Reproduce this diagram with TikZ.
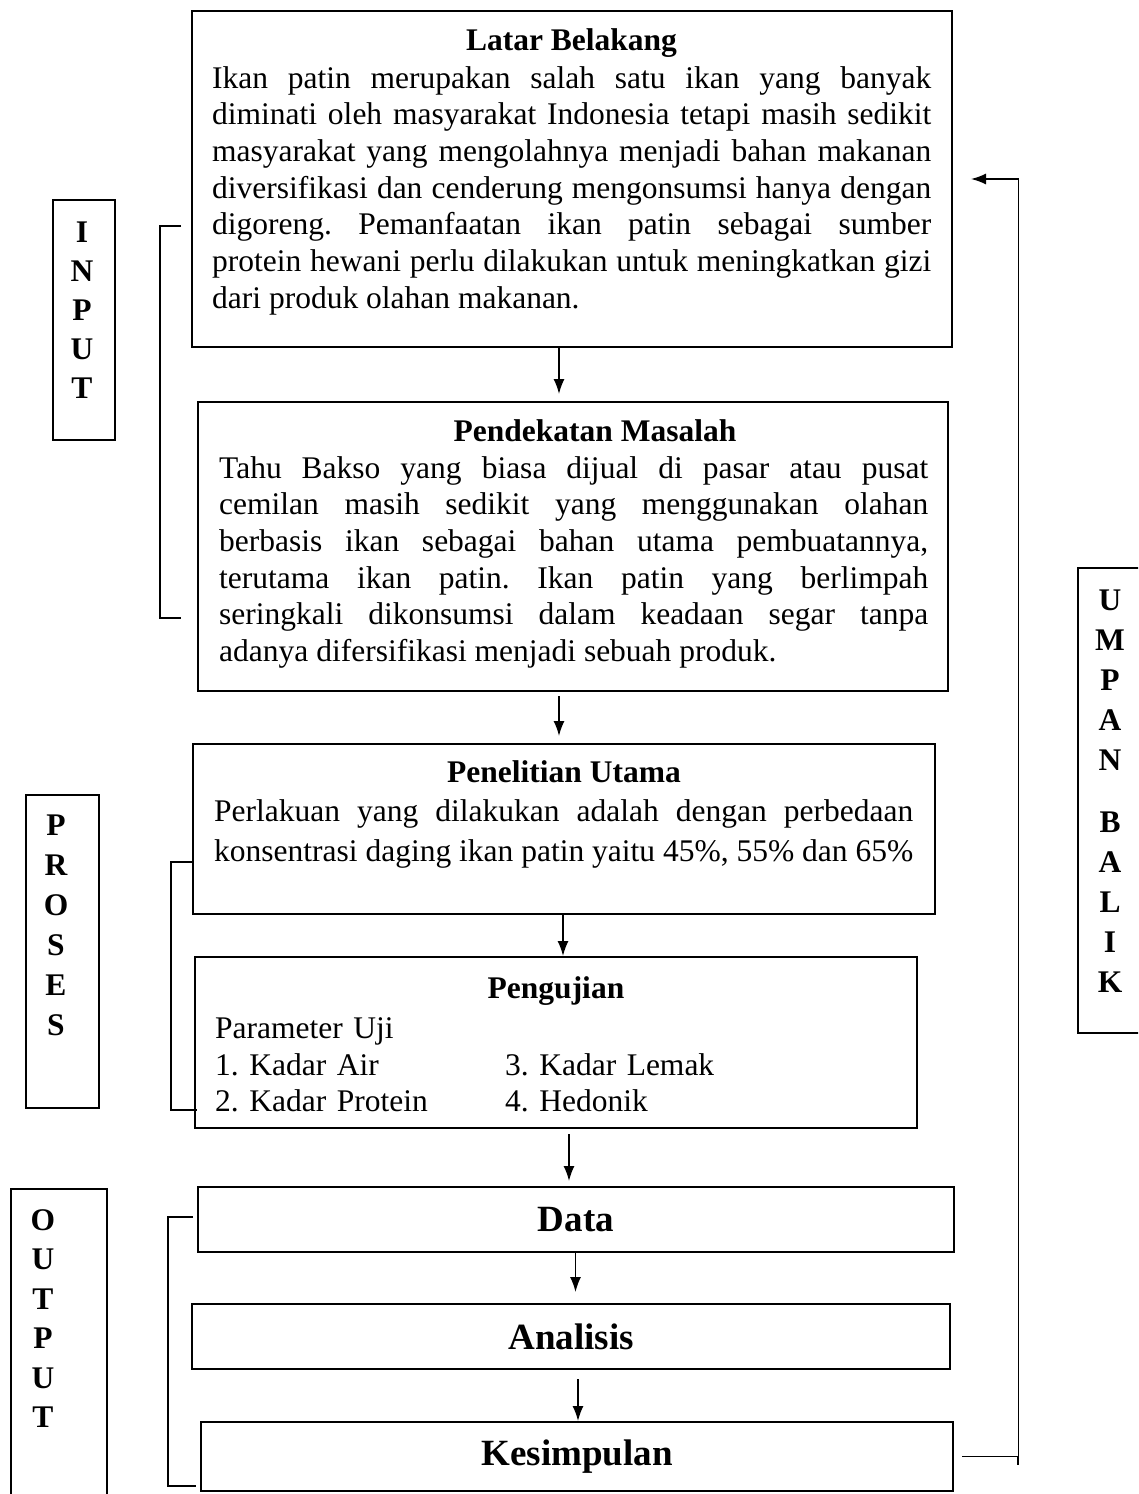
\documentclass[tikz,border=0pt]{standalone}
\usepackage{fontspec}
\setmainfont{Liberation Serif}
\usetikzlibrary{arrows.meta}

\frenchspacing
\hyphenpenalty=10000
\exhyphenpenalty=10000
\tolerance=9999
\newcommand{\bodysize}{\fontsize{31.5}{36.7}\selectfont}

\begin{document}
\begin{tikzpicture}[x=1pt,y=-1pt,
  box/.style={draw,line width=2pt,inner sep=0pt},
  boxtitle/.style={font=\bodysize\bfseries,anchor=base,inner sep=0pt},
  bigtitle/.style={font=\fontsize{37}{40}\selectfont\bfseries},
  para/.style={font=\bodysize,anchor=base west,align=justify,inner sep=0pt},
  vletters/.style={font=\fontsize{31.5}{#1}\selectfont\bfseries,anchor=base,align=center,text width=50,inner sep=0pt},
  vletters/.default=40,
  arr/.style={line width=1.5pt,-{Latex[length=15pt,width=11pt]}},
  bracket/.style={line width=2pt}
]
\useasboundingbox (0,0) rectangle (1138,1494);
\clip (0,0) rectangle (1138,1494);

% boxes
\node[box,minimum width=760,minimum height=336] (lb) at (572,179) {};
\node[box,minimum width=750,minimum height=289] (pm) at (573,546.5) {};
\node[box,minimum width=742,minimum height=170] (pu) at (564,829) {};
\node[box,minimum width=721.5,minimum height=171] (pg) at (556,1042.5) {};
\node[box,bigtitle,minimum width=756,minimum height=65] (dt) at (576,1219.5) {Data};
\node[box,bigtitle,minimum width=757.5,minimum height=65] (an) at (571,1336.5) {Analisis};
\node[box,bigtitle,minimum width=752.5,minimum height=69] (ks) at (577,1456.5) {Kesimpulan};

% side labels
\node[box,minimum width=62.5,minimum height=240] (inp) at (84,320) {};
\node[box,minimum width=73,minimum height=313] (prs) at (62,951.5) {};
\node[box,minimum width=96,minimum height=340] (outp) at (59,1359) {};
\node[box,minimum width=72,minimum height=465] (umpan) at (1114,800.5) {};
\node[vletters=39] (inptext) at (82,242) {I\\N\\P\\U\\T};
\node[vletters=40] (prstext) at (56,835) {P\\R\\O\\S\\E\\S};
\node[vletters=39.5] (outptext) at (43,1230) {O\\U\\T\\P\\U\\T};
\node[vletters=40] (umpantext) at (1110,610) {U\\M\\P\\A\\N\\[22pt]B\\A\\L\\I\\K};

% texts
\node[boxtitle] (lbtitle) at (571.5,50) {Latar Belakang};
\node[para,text width=719] (lbtext) at (212,88) {Ikan patin merupakan salah satu ikan yang banyak\linebreak
diminati oleh masyarakat Indonesia tetapi masih sedikit\linebreak
masyarakat yang mengolahnya menjadi bahan makanan\linebreak
diversifikasi dan cenderung mengonsumsi hanya dengan\linebreak
digoreng. Pemanfaatan ikan patin sebagai sumber\linebreak
protein hewani perlu dilakukan untuk meningkatkan gizi\linebreak
dari produk olahan makanan.};

\node[boxtitle] (pmtitle) at (595,441.7) {Pendekatan Masalah};
\node[para,text width=709] (pmtext) at (219,478) {Tahu Bakso yang biasa dijual di pasar atau pusat\linebreak
cemilan masih sedikit yang menggunakan olahan\linebreak
berbasis ikan sebagai bahan utama pembuatannya,\linebreak
terutama ikan patin. Ikan patin yang berlimpah\linebreak
seringkali dikonsumsi dalam keadaan segar tanpa\linebreak
adanya difersifikasi menjadi sebuah produk.};

\node[boxtitle] (putitle) at (564,782) {Penelitian Utama};
\node[para,text width=699,font=\fontsize{31.5}{40}\selectfont] (putext) at (214,821.7) {Perlakuan yang dilakukan adalah dengan perbedaan\linebreak
konsentrasi daging ikan patin yaitu 45\%, 55\% dan 65\%};

\node[boxtitle] (pgtitle) at (556,998) {Pengujian};
\node[para,align=left,text width=280] (pgpar) at (215,1038) {Parameter Uji};
\node[para,align=left,text width=280] (pgcol1) at (215,1075) {1. Kadar Air\\2. Kadar Protein};
\node[para,align=left,text width=300] (pgcol2) at (505,1075) {3. Kadar Lemak\\4. Hedonik};

% arrows
\draw[arr] ([xshift=-13pt]lb.south) -- ([xshift=-14pt,yshift=7pt]pm.north);
\draw[arr] ([xshift=-14pt,yshift=-4pt]pm.south) -- ([xshift=-5pt,yshift=7pt]pu.north);
\draw[arr] ([xshift=-1pt]pu.south) -- ([xshift=7pt]pg.north);
\draw[arr] ([xshift=13pt,yshift=-5pt]pg.south) -- ([xshift=-7pt,yshift=5pt]dt.north);
\draw[arr] ([xshift=-0.5pt]dt.south) -- ([xshift=4.5pt,yshift=11pt]an.north);
\draw[arr] ([xshift=7pt,yshift=-9pt]an.south) -- ([xshift=1pt]ks.north);
\draw[arr] ([xshift=8pt]ks.east) -- ++(56,0) coordinate (fb) |- ([xshift=18pt]lb.east);
\draw[bracket] (fb) -- ++(0,8);

% brackets
\draw[bracket] (181,226) -- (160,226) -- (160,618) -- (181,618);
\draw[bracket] (193,862) -- (171,862) -- (171,1110) -- (197,1110);
\draw[bracket] (193,1217) -- (168,1217) -- (168,1486) -- (195.5,1486);
\end{tikzpicture}
\end{document}
